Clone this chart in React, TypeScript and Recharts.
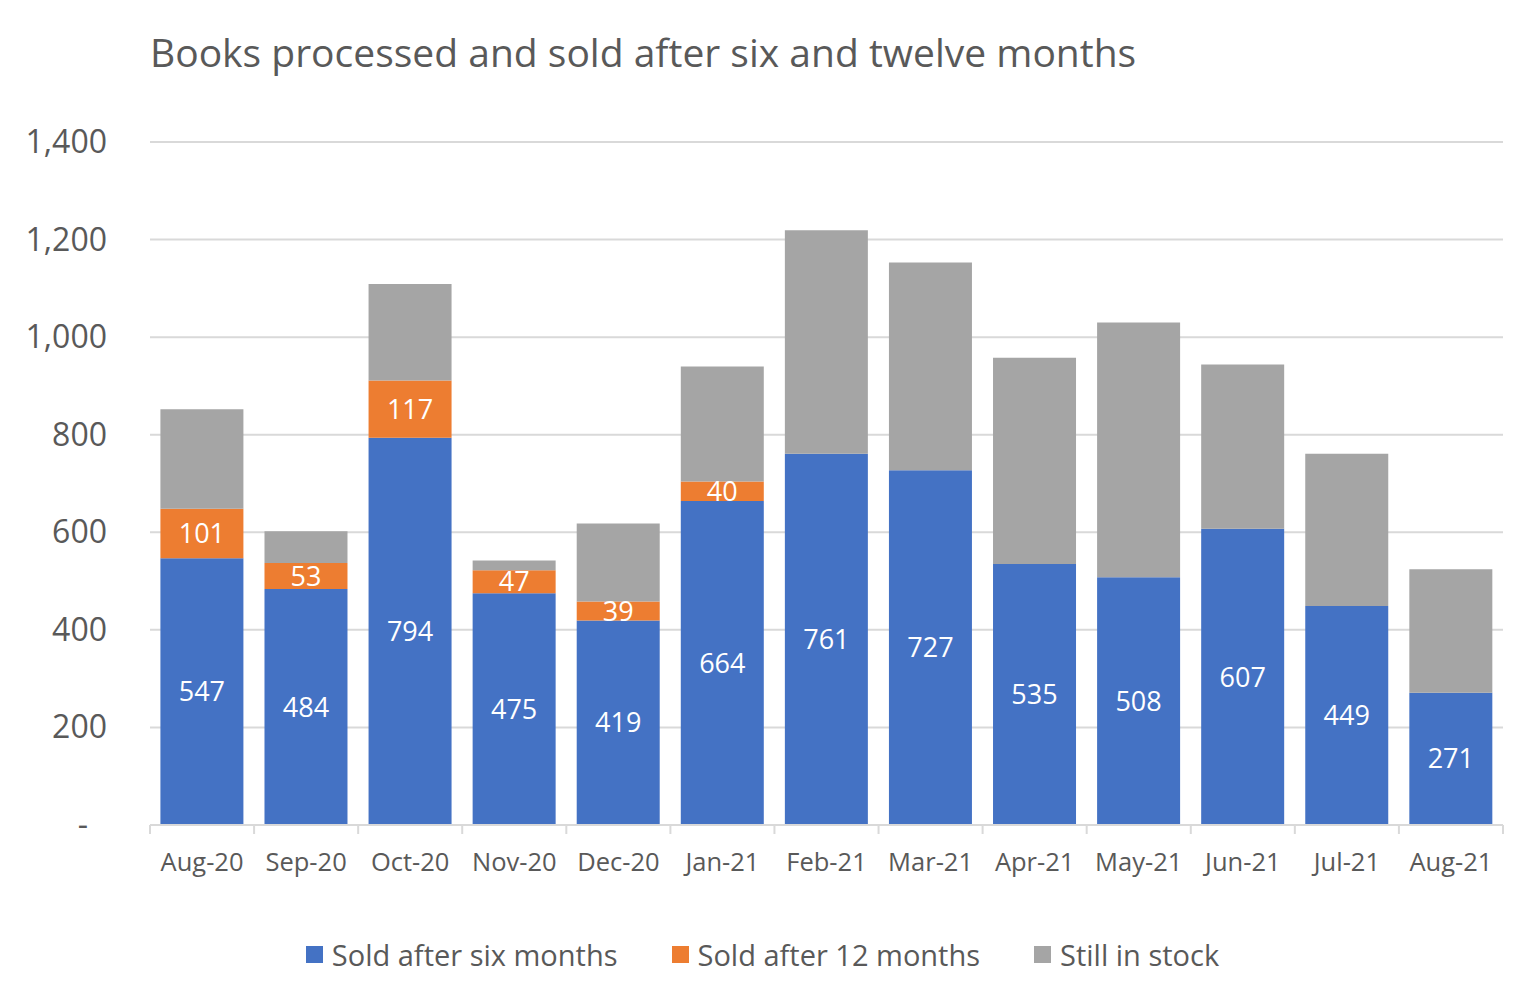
import React from 'react';
import { BarChart, Bar, XAxis, YAxis, CartesianGrid, Legend, LabelList } from 'recharts';

const categories = ['Aug-20', 'Sep-20', 'Oct-20', 'Nov-20', 'Dec-20', 'Jan-21', 'Feb-21', 'Mar-21', 'Apr-21', 'May-21', 'Jun-21', 'Jul-21', 'Aug-21'];
const soldSixMonths = [547, 484, 794, 475, 419, 664, 761, 727, 535, 508, 607, 449, 271];
const soldTwelveMonths = [101, 53, 117, 47, 39, 40, 0, 0, 0, 0, 0, 0, 0];
const stillInStock = [204, 65, 198, 20, 160, 236, 458, 426, 423, 522, 337, 312, 253];
const yTicks = [0, 200, 400, 600, 800, 1000, 1200, 1400];

const seriesNames = ['Sold after six months', 'Sold after 12 months', 'Still in stock'];
const seriesColors = ['#4472C4', '#ED7D31', '#A5A5A5'];

const FONT = "'Open Sans', sans-serif";
const TEXT = '#595959';
const GRID = '#D9D9D9';

const data = categories.map((c, i) => ({
  month: c,
  six: soldSixMonths[i],
  twelve: soldTwelveMonths[i],
  stock: stillInStock[i],
}));

const XTick = (props: any) => {
  const { x, y, payload, index } = props;
  const off = payload && payload.offset ? payload.offset : 0;
  const last = index === categories.length - 1;
  return (
    <g>
      <line x1={x - off} x2={x - off} y1={y} y2={y + 9} stroke={GRID} strokeWidth={2} />
      {last && <line x1={x + off} x2={x + off} y1={y} y2={y + 9} stroke={GRID} strokeWidth={2} />}
      <text x={x} y={y + 46} textAnchor="middle" fill={TEXT} fontSize={25.5} fontFamily={FONT}>
        {payload.value}
      </text>
    </g>
  );
};

const YTick = (props: any) => {
  const { x, y, payload } = props;
  const isZero = payload.value === 0;
  const label = isZero ? '-' : payload.value.toLocaleString('en-US');
  return (
    <text x={isZero ? x - 19 : x} y={y} dy={11} textAnchor="end" fill={TEXT} fontSize={32} fontFamily={FONT}>
      {label}
    </text>
  );
};

const LegendContent = () => (
  <div style={{ display: 'flex', justifyContent: 'center', alignItems: 'center', gap: 54, fontFamily: FONT, fontSize: 29, color: TEXT }}>
    {seriesNames.map((n, i) => (
      <div key={n} style={{ display: 'flex', alignItems: 'center' }}>
        <span style={{ display: 'inline-block', width: 17, height: 17, background: seriesColors[i], marginRight: 9 }} />
        <span>{n}</span>
      </div>
    ))}
  </div>
);

const hideZero = (v: any) => (v ? v : '');

export default function App() {
  return (
    <div style={{ position: 'absolute', left: 0, top: 0, width: 1525, height: 993, background: '#fff' }}>
      <div style={{ position: 'absolute', left: 150, top: 32, fontFamily: FONT, fontSize: 39, lineHeight: 1, color: TEXT, whiteSpace: 'nowrap' }}>
        Books processed and sold after six and twelve months
      </div>
      <BarChart
        width={1525}
        height={993}
        data={data}
        margin={{ top: 142, right: 22, bottom: 108, left: 0 }}
        barCategoryGap="10%"
      >
        <CartesianGrid vertical={false} stroke={GRID} strokeWidth={2} />
        <XAxis
          dataKey="month"
          height={60}
          axisLine={{ stroke: GRID, strokeWidth: 2 }}
          tickLine={false}
          tickSize={0}
          tickMargin={0}
          interval={0}
          tick={<XTick />}
        />
        <YAxis
          width={150}
          domain={[0, 1400]}
          ticks={yTicks}
          axisLine={false}
          tickLine={false}
          tickSize={0}
          tickMargin={43}
          tick={<YTick />}
        />
        <Legend layout="horizontal" verticalAlign="middle" align="center" wrapperStyle={{ top: 935, left: 0, width: 1525 }} content={<LegendContent />} />
        <Bar dataKey="six" name={seriesNames[0]} stackId="a" fill={seriesColors[0]} isAnimationActive={false}>
          <LabelList dataKey="six" position="center" fill="#fff" fontSize={27} fontFamily={FONT} formatter={hideZero} />
        </Bar>
        <Bar dataKey="twelve" name={seriesNames[1]} stackId="a" fill={seriesColors[1]} isAnimationActive={false}>
          <LabelList dataKey="twelve" position="center" fill="#fff" fontSize={27} fontFamily={FONT} formatter={hideZero} />
        </Bar>
        <Bar dataKey="stock" name={seriesNames[2]} stackId="a" fill={seriesColors[2]} isAnimationActive={false} />
      </BarChart>
    </div>
  );
}
